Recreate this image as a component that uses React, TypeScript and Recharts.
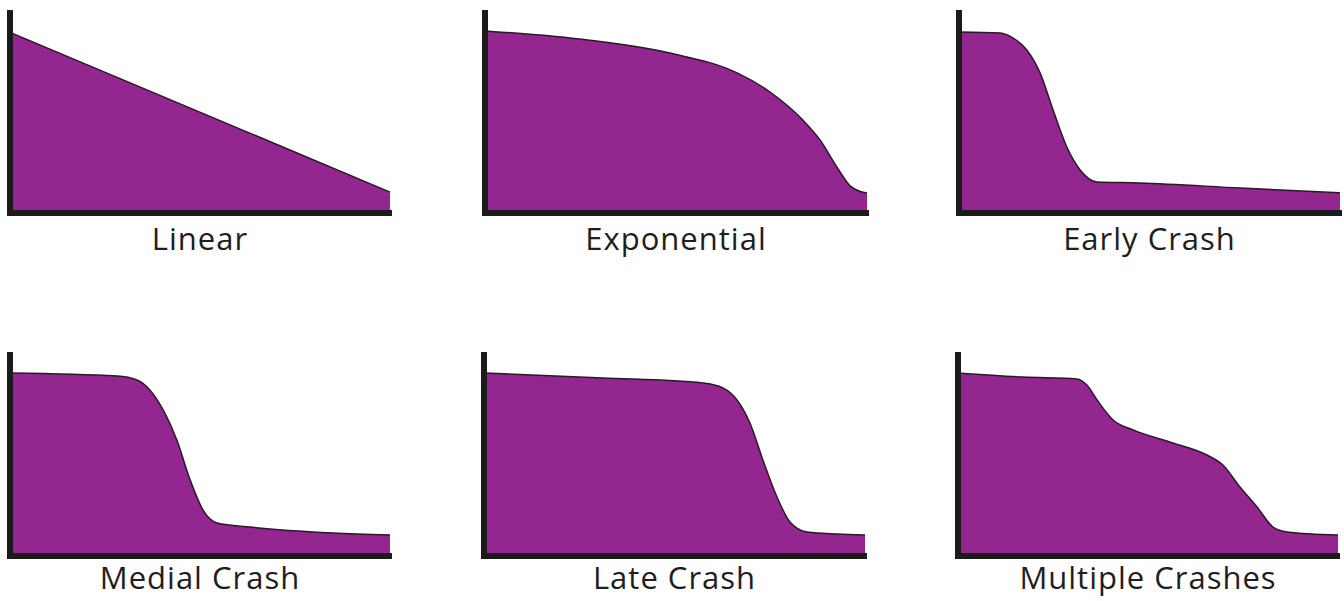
import React from 'react';
import { AreaChart, Area, XAxis, YAxis } from 'recharts';

// Curve shapes (x: 0-100 along the axis, y: 0-100 of the axis height)
const linear = [
  { x: 0, y: 89 },
  { x: 100, y: 10.3 },
];

const exponential = [
  { x: 0, y: 89.7 },
  { x: 22.3, y: 86.2 },
  { x: 48.4, y: 78.8 },
  { x: 66, y: 69 },
  { x: 74.6, y: 59.6 },
  { x: 83.2, y: 45.8 },
  { x: 87.7, y: 36 },
  { x: 92.1, y: 22.7 },
  { x: 95.5, y: 13.5 },
  { x: 98.2, y: 10.6 },
  { x: 100, y: 9.9 },
];

const earlyCrash = [
  { x: 0, y: 89.2 },
  { x: 10.8, y: 88.7 },
  { x: 14.2, y: 86.2 },
  { x: 17.8, y: 80.3 },
  { x: 21.3, y: 68.9 },
  { x: 24.7, y: 50.7 },
  { x: 28.3, y: 32.5 },
  { x: 31.8, y: 21.2 },
  { x: 36.2, y: 15.3 },
  { x: 47.5, y: 14.8 },
  { x: 73.8, y: 12.3 },
  { x: 100, y: 9.9 },
];

const medialCrash = [
  { x: 0, y: 89.7 },
  { x: 28.2, y: 88.2 },
  { x: 33.4, y: 86.3 },
  { x: 36.8, y: 81.4 },
  { x: 40.3, y: 71.6 },
  { x: 43.9, y: 56.9 },
  { x: 47.4, y: 37.3 },
  { x: 50.8, y: 22.5 },
  { x: 54.5, y: 16.2 },
  { x: 63.2, y: 14.2 },
  { x: 85, y: 11.3 },
  { x: 100, y: 10.3 },
];

const lateCrash = [
  { x: 0, y: 89.7 },
  { x: 31.2, y: 87.3 },
  { x: 57.5, y: 84.8 },
  { x: 62.7, y: 82.4 },
  { x: 66.4, y: 76.5 },
  { x: 69.8, y: 65.2 },
  { x: 73.2, y: 47.1 },
  { x: 76.9, y: 28.9 },
  { x: 80.3, y: 16.7 },
  { x: 84.8, y: 11.8 },
  { x: 92.7, y: 10.8 },
  { x: 100, y: 10.3 },
];

const multipleCrashes = [
  { x: 0, y: 89.7 },
  { x: 17.1, y: 87.7 },
  { x: 31.3, y: 86.8 },
  { x: 33.9, y: 83.8 },
  { x: 36.6, y: 76.5 },
  { x: 40.8, y: 66.7 },
  { x: 46.1, y: 61.8 },
  { x: 56.6, y: 55.4 },
  { x: 65.5, y: 49.5 },
  { x: 69.7, y: 44.6 },
  { x: 74.2, y: 33.8 },
  { x: 78.7, y: 24 },
  { x: 82.9, y: 14.2 },
  { x: 86.6, y: 11.8 },
  { x: 100, y: 10.3 },
];

const titles = ['Linear', 'Exponential', 'Early Crash', 'Medial Crash', 'Late Crash', 'Multiple Crashes'];

const PURPLE = '#93278f';
const OUTLINE = '#2a1829';
const AXIS = '#1b1b1b';

interface PanelProps {
  data: { x: number; y: number }[];
  title: string;
  left: number;
  top: number;
  width: number;
  height: number;
  captionTop: number;
}

function Panel({ data, title, left, top, width, height, captionTop }: PanelProps) {
  return (
    <div style={{ position: 'absolute', left, top, width, height: height + 45 }}>
      <AreaChart
        width={width}
        height={height}
        data={data}
        margin={{ top: 10, right: 2, left: 0, bottom: 0 }}
      >
        <XAxis
          type="number"
          dataKey="x"
          domain={[0, 100]}
          tick={false}
          tickLine={false}
          height={3}
          axisLine={{ stroke: AXIS, strokeWidth: 6, strokeLinecap: 'square' }}
        />
        <YAxis
          type="number"
          domain={[0, 100]}
          tick={false}
          tickLine={false}
          width={10}
          axisLine={{ stroke: AXIS, strokeWidth: 6 }}
        />
        <Area
          type="monotone"
          dataKey="y"
          stroke={OUTLINE}
          strokeWidth={1.5}
          fill={PURPLE}
          fillOpacity={1}
          isAnimationActive={false}
        />
      </AreaChart>
      <div
        style={{
          position: 'absolute',
          left: 10,
          width: width - 12,
          top: captionTop,
          textAlign: 'center',
          fontFamily: '"Open Sans", sans-serif',
          fontSize: 31,
          letterSpacing: 1,
          lineHeight: '31px',
          color: '#1e1e1e',
          whiteSpace: 'nowrap',
        }}
      >
        {title}
      </div>
    </div>
  );
}

export default function App() {
  return (
    <div style={{ position: 'absolute', left: 0, top: 0, width: 1344, height: 601, background: '#fff' }}>
      <Panel data={linear} title={titles[0]} left={0} top={0} width={392} height={216} captionTop={223} />
      <Panel data={exponential} title={titles[1]} left={475} top={0} width={394} height={216} captionTop={223} />
      <Panel data={earlyCrash} title={titles[2]} left={949} top={0} width={393} height={216} captionTop={223} />
      <Panel data={medialCrash} title={titles[3]} left={0} top={342} width={392} height={217} captionTop={220} />
      <Panel data={lateCrash} title={titles[4]} left={474} top={342} width={393} height={217} captionTop={220} />
      <Panel data={multipleCrashes} title={titles[5]} left={948} top={342} width={392} height={217} captionTop={220} />
    </div>
  );
}
